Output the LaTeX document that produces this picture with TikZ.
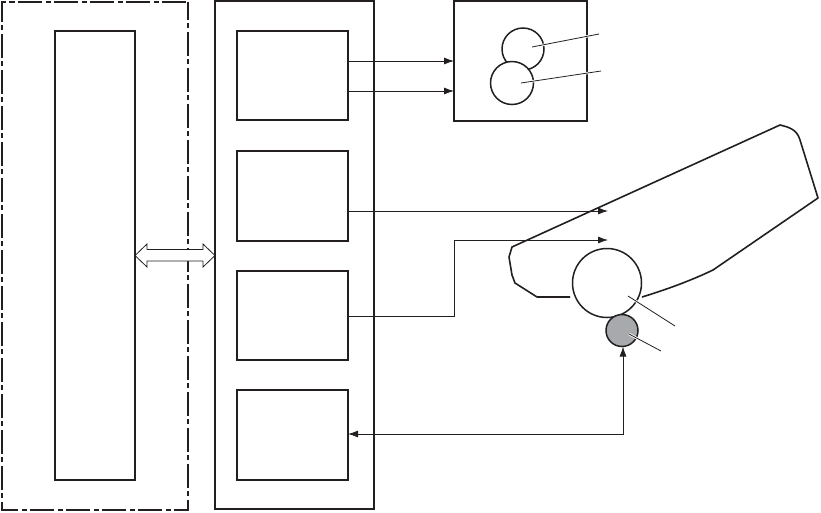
\documentclass[tikz,border=0pt]{standalone}
\usetikzlibrary{arrows.meta}
\definecolor{ink}{HTML}{231F20}
\definecolor{drumgrey}{HTML}{A7A9AC}
\tikzset{
  x=1pt,y=-1pt,
  box/.style={draw=ink,line width=1.7pt,rectangle,inner sep=0pt,outer sep=0pt,minimum width=#1},
  box/.default=111pt,
  sig/.style={draw=ink,line width=0.8pt},
  arr/.style={sig,-{Latex[length=10pt,width=7pt]}},
  arrs/.style={sig,{Latex[length=10pt,width=7pt]}-{Latex[length=10pt,width=7pt]}},
  roller/.style={draw=ink,line width=1.5pt,circle,inner sep=0pt,outer sep=0pt,fill=white},
  lead/.style={draw=ink,line width=0.8pt,preaction={draw=white,line width=2.4pt}},
  outline/.style={draw=ink,line width=1.6pt,line join=round},
  chainline/.style={draw=ink,line width=2pt,dash pattern=on 24pt off 3.5pt on 5pt off 3.5pt,dash phase=6pt},
}
\begin{document}
\begin{tikzpicture}
\useasboundingbox (0,0) rectangle (821,512);
% outer chain-dotted panel, one continuous path
\coordinate (ob) at (188,1.5);
\coordinate (od) at (2,509.5);
\draw[chainline] (ob) rectangle (od);
\node[box=80pt,minimum height=449pt] (mem) at (95,255.5) {};
\node[box=159pt,minimum height=508pt] (ctrl) at (294.5,255) {};
% circuit blocks
\node[box,minimum height=89pt] (b1) at (292.5,75.5) {};
\node[box,minimum height=90pt] (b2) at (292.5,196) {};
\node[box,minimum height=89pt] (b3) at (292.5,315.5) {};
\node[box,minimum height=90pt] (b4) at (292.5,435) {};
% fuser box
\node[box=133pt,minimum height=120pt] (fus) at (520.5,61) {};
\node[roller,minimum size=42pt] (fa) at (523,49) {};
\node[roller,minimum size=43pt] (fb) at (512,83) {};
\coordinate (fa1) at (532,47); \coordinate (fa2) at (599,34);
\coordinate (fb1) at (521,83); \coordinate (fb2) at (601,71);
\draw[lead] (fa1) -- (fa2);
\draw[lead] (fb1) -- (fb2);
% cartridge outline
\draw[outline] (570,297) -- (537,297) -- (515,283) -- (512,275) -- (509,257) -- (512,247) -- (780,125)
  .. controls (788,127) and (797,129) .. (800,140) -- (818,198) -- (713,270)
  .. controls (690,281) and (665,290) .. (642,297);
% rollers
\node[roller,minimum size=69pt] (drum) at (607,283) {};
\node[roller,minimum size=32pt,fill=drumgrey] (chg) at (622,330.5) {};
\coordinate (d1) at (628,296); \coordinate (d2) at (675,326);
\coordinate (c1) at (629,334); \coordinate (c2) at (661,351);
\draw[lead] (d1) -- (d2);
\draw[lead] (c1) -- (c2);
% signal arrows
\coordinate (t2) at (608,211);
\coordinate (t3) at (608,240);
\coordinate (k3) at (454,316);
\coordinate (k4) at (623,434);
\draw[arr] (b1.east |- 0,61) -- (fus.west |- 0,61);
\draw[arr] (b1.east |- 0,91) -- (fus.west |- 0,91);
\draw[arr] (b2.east |- t2) -- (t2);
\draw[arr] (b3.east |- k3) -- (k3) -- (k3 |- t3) -- (t3);
\draw[arrs] (b4.east |- k4) -- (k4) -- (chg.south -| k4);
% bus arrow between memory and controller
\draw[draw=ink,fill=white,line width=0.8pt,line join=miter]
  (mem.east |- 0,255.5) -- (147,244) -- (147,249.5) -- (203,249.5) -- (203,244)
  -- (ctrl.west |- 0,255.5) -- (203,267) -- (203,261) -- (147,261) -- (147,267) -- cycle;
\end{tikzpicture}
\end{document}
